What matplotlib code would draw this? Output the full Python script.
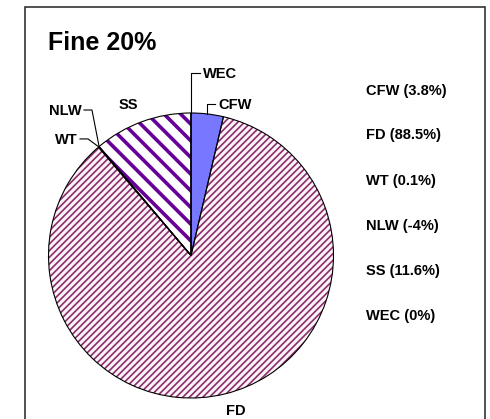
import matplotlib
matplotlib.use('Agg')
import matplotlib.pyplot as plt
from matplotlib.patches import Rectangle
import numpy as np

categories = ['CFW', 'FD', 'WT', 'NLW', 'SS', 'WEC']
values = [3.8, 88.5, 0.1, -4, 11.6, 0]
value_labels = ['3.8', '88.5', '0.1', '-4', '11.6', '0']
title = 'Fine 20%'

plt.rcParams['font.family'] = ['Liberation Sans', 'DejaVu Sans']

W, H, DPI = 490, 419, 100
fig = plt.figure(figsize=(W / DPI, H / DPI), dpi=DPI)
cx, cy, r = 191, 255.5, 142.5
ax = fig.add_axes([(cx - r) / W, (H - cy - r) / H, 2 * r / W, 2 * r / H])

draw_vals = [max(v, 0) for v in values]
faces = ['#7777FF', '#FBF3F8', '#FFFF99', 'white', 'white', 'white']
hatch_cols = [None, '#8B2D6B', None, None, '#660099', None]
hatches = [None, '/////', None, None, '\\\\', None]
hatch_lw = [0, 1.2, 0, 0, 2.6, 0]

wedges, _ = ax.pie(draw_vals, startangle=90, counterclock=False, colors=faces,
                   radius=1, wedgeprops=dict(linewidth=0))
for w, hc, h, hl in zip(wedges, hatch_cols, hatches, hatch_lw):
    if h:
        w.set_hatch(h)
        w.set_edgecolor(hc)
        w.set_linewidth(0)
        if hasattr(w, 'set_hatch_linewidth'):
            w.set_hatch_linewidth(hl)
ax.pie(draw_vals, startangle=90, counterclock=False, radius=1,
       wedgeprops=dict(fill=False, edgecolor='black', linewidth=0.8))
ax.set_xlim(-1, 1)
ax.set_ylim(-1, 1)
ax.axis('off')

label_pos = {
    'WEC': dict(xy=(0.084, 1.245), ha='left', leader='up'),
    'CFW': dict(xy=(0.19, 1.028), ha='left', leader='up'),
    'SS': dict(xy=(-0.442, 1.028), ha='center', leader=None),
    'NLW': dict(xy=(-0.765, 0.986), ha='right', leader='side'),
    'WT': dict(xy=(-0.793, 0.783), ha='right', leader='side'),
    'FD': dict(xy=(0.316, -1.119), ha='center', leader=None),
}
fs = 10.5
for name, w in zip(categories, wedges):
    p = label_pos[name]
    tx, ty = p['xy']
    mid = np.deg2rad((w.theta1 + w.theta2) / 2)
    axp, ayp = np.cos(mid), np.sin(mid)
    ly = ty + 0.035
    if p['leader'] == 'up':
        ax.plot([axp, axp, tx - 0.02], [ayp, ly, ly], color='black', lw=0.8, clip_on=False)
    elif p['leader'] == 'side':
        ax.plot([tx + 0.014, tx + 0.07, axp], [ly, ly, ayp], color='black', lw=0.8, clip_on=False)
    ax.text(tx, ty, name, ha=p['ha'], va='baseline', fontsize=fs, fontweight='bold', clip_on=False)

for i, (name, vl) in enumerate(zip(categories, value_labels)):
    yc = 89.5 + 45 * i + 5
    fig.text(366 / W, 1 - yc / H, f'{name} ({vl}%)', ha='left', va='baseline',
             fontsize=fs, fontweight='bold')

fig.text(48 / W, 1 - 50 / H, title, ha='left', va='baseline', fontsize=18, fontweight='bold')

fig.add_artist(Rectangle((24.5 / W, -0.1), (485 - 24.5) / W, (H - 7.5) / H + 0.1,
                         transform=fig.transFigure, fill=False, lw=1.1, ec='#222222'))

fig.savefig('out.png', dpi=DPI)
